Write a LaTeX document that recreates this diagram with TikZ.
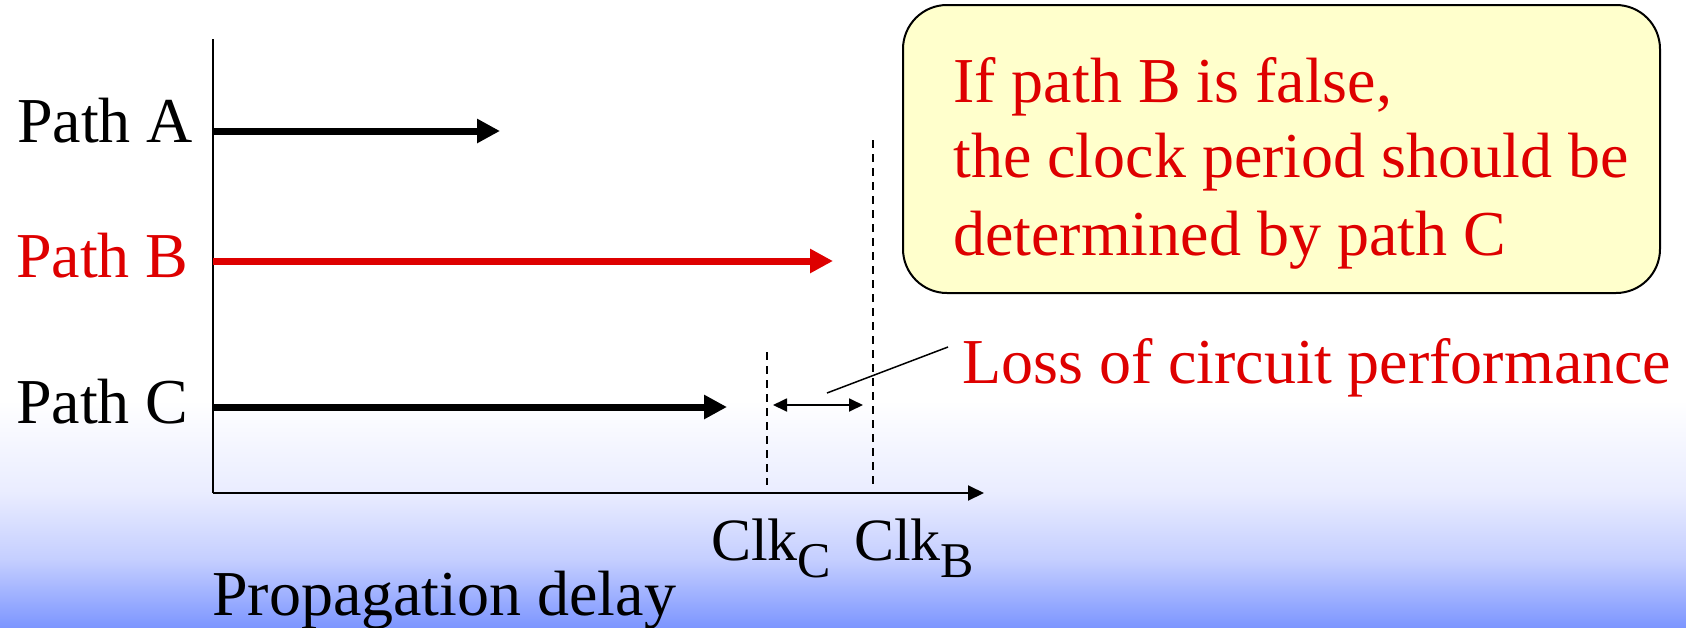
\documentclass[tikz,border=0pt]{standalone}
\usepackage{fontspec}
\setmainfont{Liberation Serif}
\usetikzlibrary{arrows.meta}

\definecolor{alertred}{RGB}{222,0,0}
\definecolor{notefill}{RGB}{255,255,204}
\definecolor{bgA}{RGB}{233,236,255}
\definecolor{bgB}{RGB}{196,206,255}
\definecolor{bgC}{RGB}{125,150,255}

\tikzset{
  lbl/.style={anchor=base west, inner sep=0pt, font=\fontsize{64}{76}\selectfont},
  clk/.style={lbl, font=\fontsize{60}{72}\selectfont},
  notetext/.style={lbl, text=alertred, font=\fontsize{64}{76}\selectfont},
  axisline/.style={line width=2pt, -{Triangle[length=16pt,width=15pt]}},
  patharrow/.style={line width=7pt, -{Triangle[length=23pt,width=23pt]}},
  guide/.style={line width=1.5pt, dash pattern=on 8pt off 6pt},
  span/.style={line width=1.8pt, {Triangle[length=14pt,width=13pt]}-{Triangle[length=14pt,width=13pt]}},
  leader/.style={line width=1.5pt},
  notebox/.style={draw, line width=2pt, fill=notefill, rounded corners=44pt,
    minimum width=757pt, minimum height=288pt, inner sep=0pt}
}

\newcommand{\subC}[1]{\raisebox{-17pt}{\fontsize{50}{60}\selectfont #1}}

\begin{document}
\begin{tikzpicture}[x=1pt,y=-1pt]
  \useasboundingbox (0,0) rectangle (1686,627);

  % background: white fading into blue at the bottom
  \fill[white] (0,0) rectangle (1686,627);
  \shade[top color=white, bottom color=bgA] (0,400) rectangle (1686,493.5);
  \shade[top color=bgA, bottom color=bgB] (0,493) rectangle (1686,560.5);
  \shade[top color=bgB, bottom color=bgC] (0,560) rectangle (1686,627);

  % axes
  \coordinate (origin) at (213,493);
  \coordinate (ytop) at (213,39);
  \coordinate (xend) at (984,493);
  \draw[line width=2pt] (origin) -- (ytop);
  \draw[axisline] (origin) -- (xend);

  % path labels
  \node[lbl] (pa) at (17,142) {Path A};
  \node[lbl, text=alertred] (pb) at (16,277) {Path B};
  \node[lbl] (pc) at (16,423) {Path C};

  % path delays
  \coordinate (aS) at (213,131);  \coordinate (aE) at (500,131);
  \coordinate (bS) at (213,261);  \coordinate (bE) at (833,261);
  \coordinate (cS) at (213,407);  \coordinate (cE) at (727,407);
  \draw[patharrow] (aS) -- (aE);
  \draw[patharrow, alertred] (bS) -- (bE);
  \draw[patharrow] (cS) -- (cE);

  % clock limits
  \coordinate (ccT) at (767,352);  \coordinate (ccB) at (767,485);
  \coordinate (cbT) at (873,140);  \coordinate (cbB) at (873,485);
  \draw[guide] (ccT) -- (ccB);
  \draw[guide] (cbT) -- (cbB);

  \node[clk] (clkc) at (711,560) {Clk\subC{C}};
  \node[clk] (clkb) at (854,560) {Clk\subC{B}};

  % performance gap
  \coordinate (gL) at (773,405);
  \coordinate (gR) at (863,405);
  \draw[span] (gL) -- (gR);

  \node[lbl, text=alertred] (loss) at (962,383) {Loss of circuit performance};
  \coordinate (ldA) at (827,393);
  \coordinate (ldB) at (948,347);
  \draw[leader] (ldA) -- (ldB);

  % axis caption
  \node[lbl] (xlabel) at (212,615) {Propagation delay};

  % note
  \node[notebox] (note) at (1281.5,149) {};
  \node[notetext] (n1) at (953,102) {If path B is false,};
  \node[notetext] (n2) at (953,177) {the clock period should be};
  \node[notetext] (n3) at (953,255) {determined by path C};
\end{tikzpicture}
\end{document}
